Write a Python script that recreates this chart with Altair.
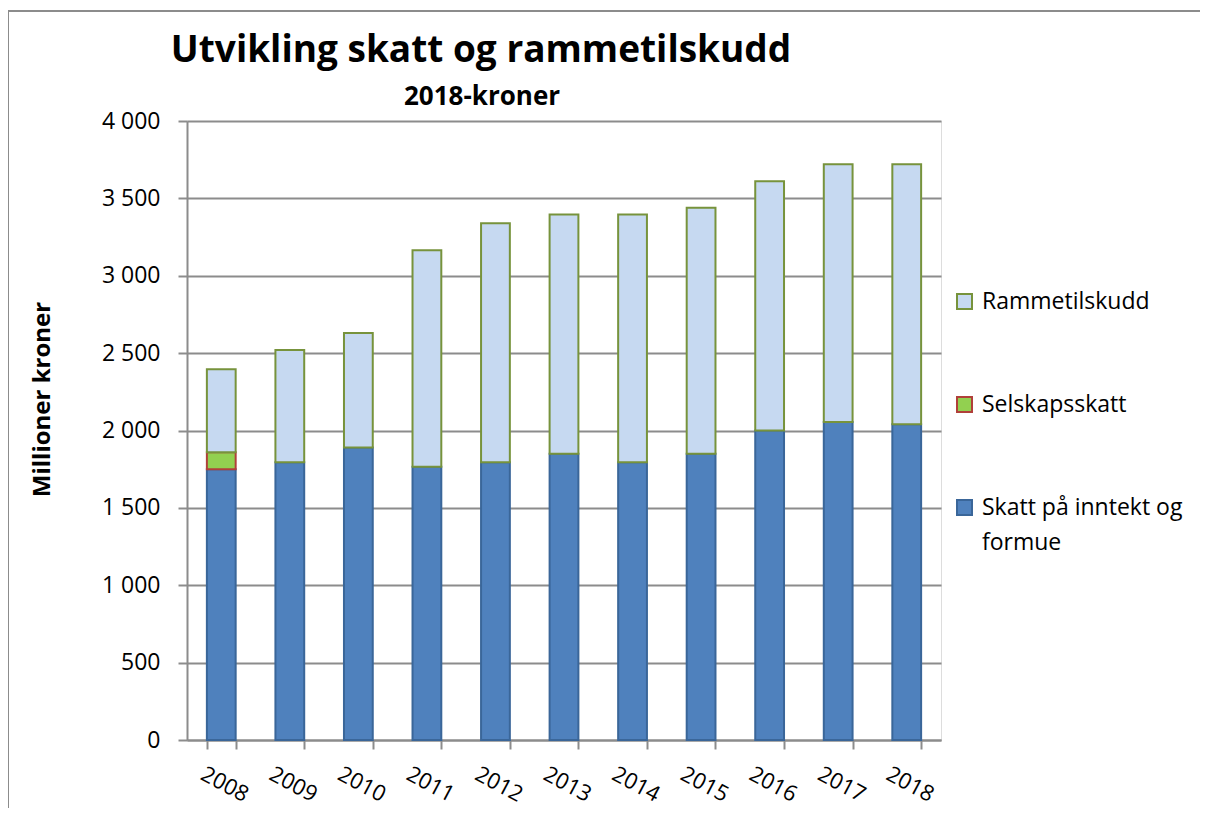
import altair as alt
import pandas as pd

years = ["2008", "2009", "2010", "2011", "2012", "2013", "2014", "2015", "2016", "2017", "2018"]
skatt = [1750, 1795, 1890, 1765, 1795, 1850, 1795, 1850, 2000, 2055, 2040]
selskap = [110, 0, 0, 0, 0, 0, 0, 0, 0, 0, 0]
ramme = [535, 725, 740, 1400, 1545, 1545, 1600, 1590, 1610, 1665, 1680]

series = ["Rammetilskudd", "Selskapsskatt", "Skatt på inntekt og formue"]
fills = ["#c6d9f1", "#92d050", "#4f81bd"]
strokes = ["#77933c", "#b0403a", "#3a6699"]
stack_order = {"Skatt på inntekt og formue": 0, "Selskapsskatt": 1, "Rammetilskudd": 2}

title_text = "Utvikling skatt og rammetilskudd"
subtitle_text = "2018-kroner"

rows = []
for i, y in enumerate(years):
    for name, vals in (("Skatt på inntekt og formue", skatt), ("Selskapsskatt", selskap), ("Rammetilskudd", ramme)):
        if vals[i] > 0:
            rows.append({"year": y, "series": name, "value": vals[i], "ord": stack_order[name]})
df = pd.DataFrame(rows)

FONT = "Open Sans"
GRID = "#8c8c8c"

legend = alt.Legend(
    title=None, orient="none", legendX=766, legendY=169, direction="vertical",
    symbolType="square", symbolSize=225, symbolStrokeWidth=2,
    labelFontSize=23, labelFont=FONT, labelColor="black", labelOffset=6,
    labelLimit=400, rowPadding=79, padding=0,
    labelExpr="datum.label == 'Skatt på inntekt og formue' ? ['Skatt på inntekt og', 'formue'] : datum.label",
)

bars = alt.Chart(df).mark_bar(strokeWidth=2).encode(
    x=alt.X("year:N", sort=years, title=None,
            scale=alt.Scale(paddingInner=0.58, paddingOuter=0.29),
            axis=alt.Axis(labelAngle=28, labelAlign="center", labelBaseline="middle",
                          labelPadding=35, labelOffset=3, labelFontSize=22, labelFont=FONT,
                          labelColor="black",
                          tickSize=9, tickBand="extent", tickColor=GRID, tickWidth=2,
                          domainColor=GRID, domainWidth=2, grid=False)),
    y=alt.Y("value:Q", stack="zero", scale=alt.Scale(domain=[0, 4000], nice=False),
            axis=alt.Axis(values=list(range(0, 4001, 500)),
                          labelExpr="replace(format(datum.value, ','), ',', ' ')",
                          title="Millioner kroner", titleFontSize=24, titleFont=FONT,
                          titleFontWeight="bold", titleColor="black", titlePadding=47,
                          titleY=278,
                          labelFontSize=23, labelFont=FONT, labelColor="black", labelPadding=18,
                          tickSize=9, tickColor=GRID, tickWidth=2,
                          domainColor=GRID, domainWidth=2,
                          gridColor=GRID, gridWidth=2)),
    color=alt.Color("series:N", scale=alt.Scale(domain=series, range=fills), legend=legend),
    stroke=alt.Stroke("series:N", scale=alt.Scale(domain=series, range=strokes), legend=legend),
    order=alt.Order("ord:Q"),
)

one = pd.DataFrame({"a": [0]})

frame_left = alt.Chart(one).mark_rule(color="#8c8c8c", strokeWidth=2).encode(
    x=alt.value(-179), y=alt.value(-110), y2=alt.value(900))
frame_top = alt.Chart(one).mark_rule(color="#8c8c8c", strokeWidth=2).encode(
    x=alt.value(-179), x2=alt.value(1013), y=alt.value(-110))

title = alt.Chart(one).mark_text(
    text=title_text, font=FONT, fontSize=37, fontWeight="bold", color="black",
    align="center", baseline="alphabetic"
).encode(x=alt.value(294), y=alt.value(-59))

subtitle = alt.Chart(one).mark_text(
    text=subtitle_text, font=FONT, fontSize=26, fontWeight="bold", color="black",
    align="center", baseline="alphabetic"
).encode(x=alt.value(295), y=alt.value(-16))

chart = alt.layer(frame_left, frame_top, bars, title, subtitle).properties(
    width=754, height=619,
    padding={"left": 179, "top": 113, "right": 259, "bottom": 68},
    autosize=alt.AutoSizeParams(type="none"),
).configure_view(fill="#e6e6e6", stroke="transparent").configure(
    background="white",
    style={"guide-label": {"lineHeight": 35}},
)

chart.save("out.html", embed_options={"renderer": "svg", "actions": False})
